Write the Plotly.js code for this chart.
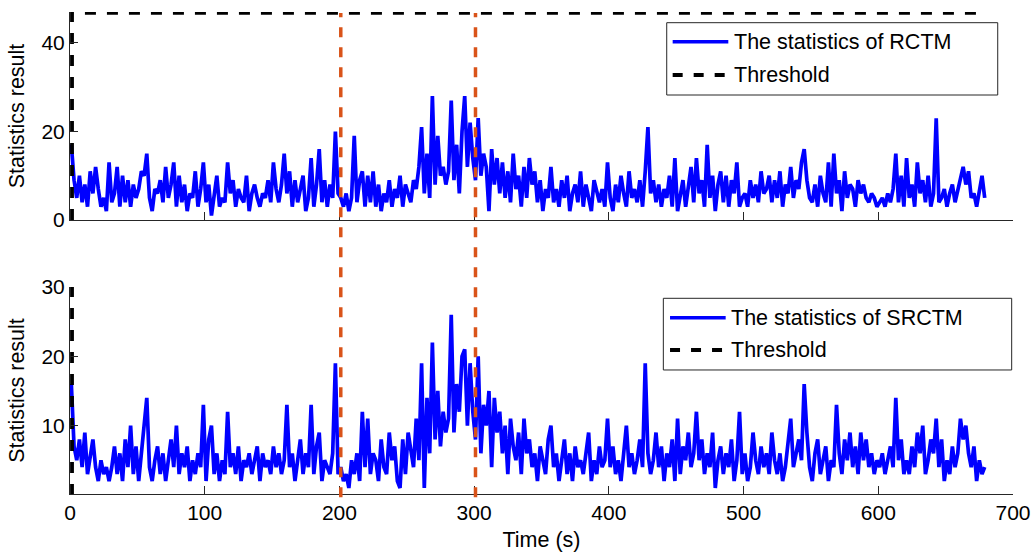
<!DOCTYPE html>
<html>
<head>
<meta charset="utf-8">
<script src="https://cdn.plot.ly/plotly-3.0.1.min.js"></script>
<style>html,body{margin:0;padding:0;background:#fff;}#chart{width:1032px;height:552px;}</style>
</head>
<body>
<div id="chart"></div>
<script>
// Sampling: one value every 2 s, starting at t = 1 s
const timeStart = 1;
const timeStep = 2;

// Statistics of RCTM (top panel)
const rctmValues = [
  17, 9, 5, 10, 4, 8, 3, 11, 6, 12,
  7, 3, 5, 2, 13, 4, 6, 12, 3, 10,
  4, 9, 3, 8, 5, 7, 11, 10, 15, 5,
  2, 7, 6, 9, 4, 12, 5, 8, 13, 3,
  10, 4, 8, 2, 6, 5, 11, 3, 7, 13,
  4, 8, 1, 6, 10, 3, 5, 4, 13, 6,
  9, 3, 7, 5, 4, 10, 2, 6, 8, 5,
  3, 6, 5, 9, 4, 13, 7, 4, 8, 15,
  6, 11, 3, 9, 4, 7, 10, 2, 5, 14,
  3, 8, 16, 4, 9, 3, 8, 5, 20, 6,
  5, 3, 6, 2, 5, 19, 4, 9, 11, 3,
  10, 4, 11, 3, 8, 2, 6, 4, 9, 3,
  7, 5, 10, 3, 8, 6, 4, 9, 7, 12,
  21, 6, 15, 5, 28, 8, 19, 10, 12, 8,
  11, 27, 9, 17, 6, 20, 28, 12, 22, 14,
  9, 23, 10, 15, 12, 2, 16, 8, 14, 6,
  13, 5, 11, 4, 15, 7, 10, 3, 12, 5,
  14, 8, 11, 4, 9, 2, 7, 5, 12, 4,
  7, 3, 9, 5, 10, 2, 6, 8, 4, 11,
  3, 8, 5, 2, 9, 6, 4, 7, 3, 13,
  5, 2, 8, 4, 10, 6, 3, 11, 5, 7,
  4, 9, 3, 11, 21, 6, 9, 4, 8, 3,
  7, 5, 10, 3, 14, 2, 6, 9, 3, 8,
  12, 4, 14, 6, 9, 3, 17, 5, 10, 2,
  8, 11, 4, 10, 3, 9, 6, 13, 3, 5,
  6, 3, 9, 5, 8, 4, 11, 6, 7, 10,
  4, 9, 5, 11, 3, 8, 6, 12, 5, 9,
  7, 13, 16, 9, 5, 4, 8, 3, 10, 6,
  4, 13, 3, 15, 6, 9, 2, 11, 5, 8,
  7, 3, 9, 6, 8, 5, 4, 6, 5, 3,
  4, 5, 3, 6, 4, 7, 15, 4, 10, 3,
  14, 5, 8, 3, 13, 6, 9, 4, 10, 3,
  6, 23, 4, 5, 7, 3, 6, 8, 4, 7,
  9, 12, 8, 11, 5, 6, 3, 7, 10, 5
];

// Statistics of SRCTM (bottom panel)
const srctmValues = [
  16, 7, 5, 8, 4, 9, 3, 6, 8, 4,
  2, 5, 3, 4, 2, 4, 7, 3, 6, 2,
  8, 4, 10, 3, 7, 2, 6, 11, 14, 4,
  2, 5, 7, 3, 6, 2, 5, 8, 4, 10,
  3, 6, 4, 7, 2, 5, 3, 6, 4, 13,
  2, 8, 10, 3, 6, 2, 5, 3, 12, 4,
  6, 3, 7, 2, 5, 4, 6, 3, 5, 7,
  2, 6, 4, 5, 3, 7, 4, 6, 3, 5,
  13, 4, 6, 2, 5, 8, 3, 6, 4, 13,
  3, 7, 9, 2, 5, 4, 3, 6, 19, 3,
  4, 2, 3, 1, 5, 3, 6, 2, 12, 4,
  11, 3, 6, 5, 2, 8, 4, 3, 9, 5,
  7, 2, 1, 8, 3, 9, 6, 4, 11, 5,
  19, 1, 14, 6, 22, 8, 15, 7, 12, 9,
  11, 26, 9, 16, 12, 20, 21, 10, 19, 12,
  8, 20, 6, 13, 10, 15, 4, 14, 9, 12,
  6, 10, 3, 11, 7, 5, 9, 3, 11, 6,
  8, 4, 6, 2, 7, 5, 3, 8, 10, 4,
  6, 2, 5, 8, 3, 6, 2, 7, 4, 5,
  3, 6, 9, 2, 5, 3, 7, 4, 5, 11,
  4, 7, 3, 5, 2, 6, 10, 4, 6, 3,
  5, 8, 4, 19, 6, 3, 5, 9, 4, 7,
  2, 6, 4, 8, 2, 11, 3, 7, 5, 9,
  4, 6, 12, 5, 8, 3, 6, 4, 9, 1,
  5, 7, 3, 6, 4, 8, 2, 5, 12, 3,
  6, 2, 4, 9, 5, 3, 7, 4, 6, 3,
  9, 5, 3, 6, 2, 4, 7, 11, 4, 6,
  8, 5, 16, 9, 4, 2, 6, 8, 3, 5,
  7, 2, 5, 4, 13, 6, 3, 8, 5, 9,
  4, 7, 3, 9, 5, 8, 4, 6, 3, 5,
  4, 6, 3, 5, 7, 4, 14, 5, 8, 3,
  5, 3, 7, 4, 9, 6, 10, 3, 5, 8,
  6, 11, 4, 8, 2, 5, 3, 7, 4, 6,
  11, 8, 10, 6, 4, 7, 2, 5, 3, 4
];

// Threshold curves (start at 0, then constant)
const thresholdTimes = [1.5, 1.5, 679];
const rctmThreshold = [0, 46.8, 46.8];
const srctmThreshold = [0, 38, 38];

// Change points marked by orange dashed lines
const changePoints = [201, 301];

// Tick values
const xTicks = [0, 100, 200, 300, 400, 500, 600, 700];
const yTicksTop = [0, 20, 40];
const yTicksBottom = [10, 20, 30];

// Legend labels
const legendTop = ['The statistics of RCTM', 'Threshold'];
const legendBottom = ['The statistics of SRCTM', 'Threshold'];

const timeAxis = rctmValues.map((_, i) => timeStart + i * timeStep);

const blue = '#0000FF';
const orange = '#D95319';
const axisColor = '#262626';
const fontFamily = 'Liberation Sans, Arial, Helvetica, sans-serif';
const lineW = 3.7;

const traces = [
  {x: timeAxis, y: rctmValues, xaxis: 'x', yaxis: 'y', type: 'scatter', mode: 'lines',
   line: {color: blue, width: lineW}, name: legendTop[0], showlegend: false},
  {x: thresholdTimes, y: rctmThreshold, xaxis: 'x', yaxis: 'y', type: 'scatter', mode: 'lines',
   line: {color: '#000', width: 3.8, dash: '11px,11px'}, name: legendTop[1], showlegend: false},
  {x: timeAxis, y: srctmValues, xaxis: 'x2', yaxis: 'y2', type: 'scatter', mode: 'lines',
   line: {color: blue, width: lineW}, name: legendBottom[0], showlegend: false},
  {x: thresholdTimes, y: srctmThreshold, xaxis: 'x2', yaxis: 'y2', type: 'scatter', mode: 'lines',
   line: {color: '#000', width: 3.8, dash: '11px,11px'}, name: legendBottom[1], showlegend: false}
];

const axisCommon = {
  showline: true, linecolor: axisColor, linewidth: 1,
  ticks: 'inside', ticklen: 8, tickcolor: axisColor, tickwidth: 1,
  showgrid: false, zeroline: false, mirror: false,
  tickfont: {family: fontFamily, size: 21, color: '#000'}
};

const shapes = [];
changePoints.forEach(cp => {
  shapes.push({type: 'line', xref: 'x', yref: 'paper', x0: cp, x1: cp, y0: -0.007, y1: 0.998,
    line: {color: orange, width: 3.5, dash: '10px,10px'}, layer: 'above'});
});

// Legend boxes (MATLAB style)
const annotations = [];
function legendBox(x0, x1, y0, y1, rows, lx0, lx1, tx, labels) {
  shapes.push({type: 'rect', xref: 'paper', yref: 'paper', x0: x0, x1: x1, y0: y0, y1: y1,
    line: {color: axisColor, width: 1}, fillcolor: '#fff', layer: 'above'});
  shapes.push({type: 'line', xref: 'paper', yref: 'paper', x0: lx0, x1: lx1, y0: rows[0], y1: rows[0],
    line: {color: blue, width: 3.5}, layer: 'above'});
  shapes.push({type: 'line', xref: 'paper', yref: 'paper', x0: lx0, x1: lx1, y0: rows[1], y1: rows[1],
    line: {color: '#000', width: 3.8, dash: '10px,11px'}, layer: 'above'});
  labels.forEach((lab, i) => {
    annotations.push({xref: 'paper', yref: 'paper', x: tx, y: rows[i], text: lab, showarrow: false,
      xanchor: 'left', yanchor: 'middle', font: {family: fontFamily, size: 21.5, color: '#000'}});
  });
}
legendBox(0.6328, 0.9838, 0.8278, 0.9778, [0.9384, 0.8693], 0.6391, 0.6981, 0.7020, legendTop);
legendBox(0.6292, 0.9986, 0.2573, 0.4060, [0.3658, 0.2988], 0.6363, 0.6953, 0.6990, legendBottom);

const titleFont = {family: fontFamily, size: 21.5, color: '#000'};
const layout = {
  width: 1032, height: 552,
  margin: {l: 70, r: 19, t: 12, b: 58},
  paper_bgcolor: '#fff', plot_bgcolor: '#fff',
  font: {family: fontFamily, size: 21, color: '#000'},
  showlegend: false,
  xaxis: Object.assign({}, axisCommon, {domain: [0, 1], anchor: 'y', range: [0, 700],
    tickvals: xTicks, showticklabels: false}),
  yaxis: Object.assign({}, axisCommon, {domain: [0.5685, 1], anchor: 'x', range: [0, 47],
    tickvals: yTicksTop, title: {text: 'Statistics result', font: titleFont, standoff: 10}}),
  xaxis2: Object.assign({}, axisCommon, {domain: [0, 1], anchor: 'y2', range: [0, 700],
    tickvals: xTicks, title: {text: 'Time (s)', font: titleFont, standoff: 8}}),
  yaxis2: Object.assign({}, axisCommon, {domain: [0, 0.4295], anchor: 'x2', range: [0.13, 30],
    tickvals: yTicksBottom, title: {text: 'Statistics result', font: titleFont, standoff: 10}}),
  shapes: shapes,
  annotations: annotations
};

Plotly.newPlot('chart', traces, layout, {displayModeBar: false, staticPlot: true});
</script>
</body>
</html>
